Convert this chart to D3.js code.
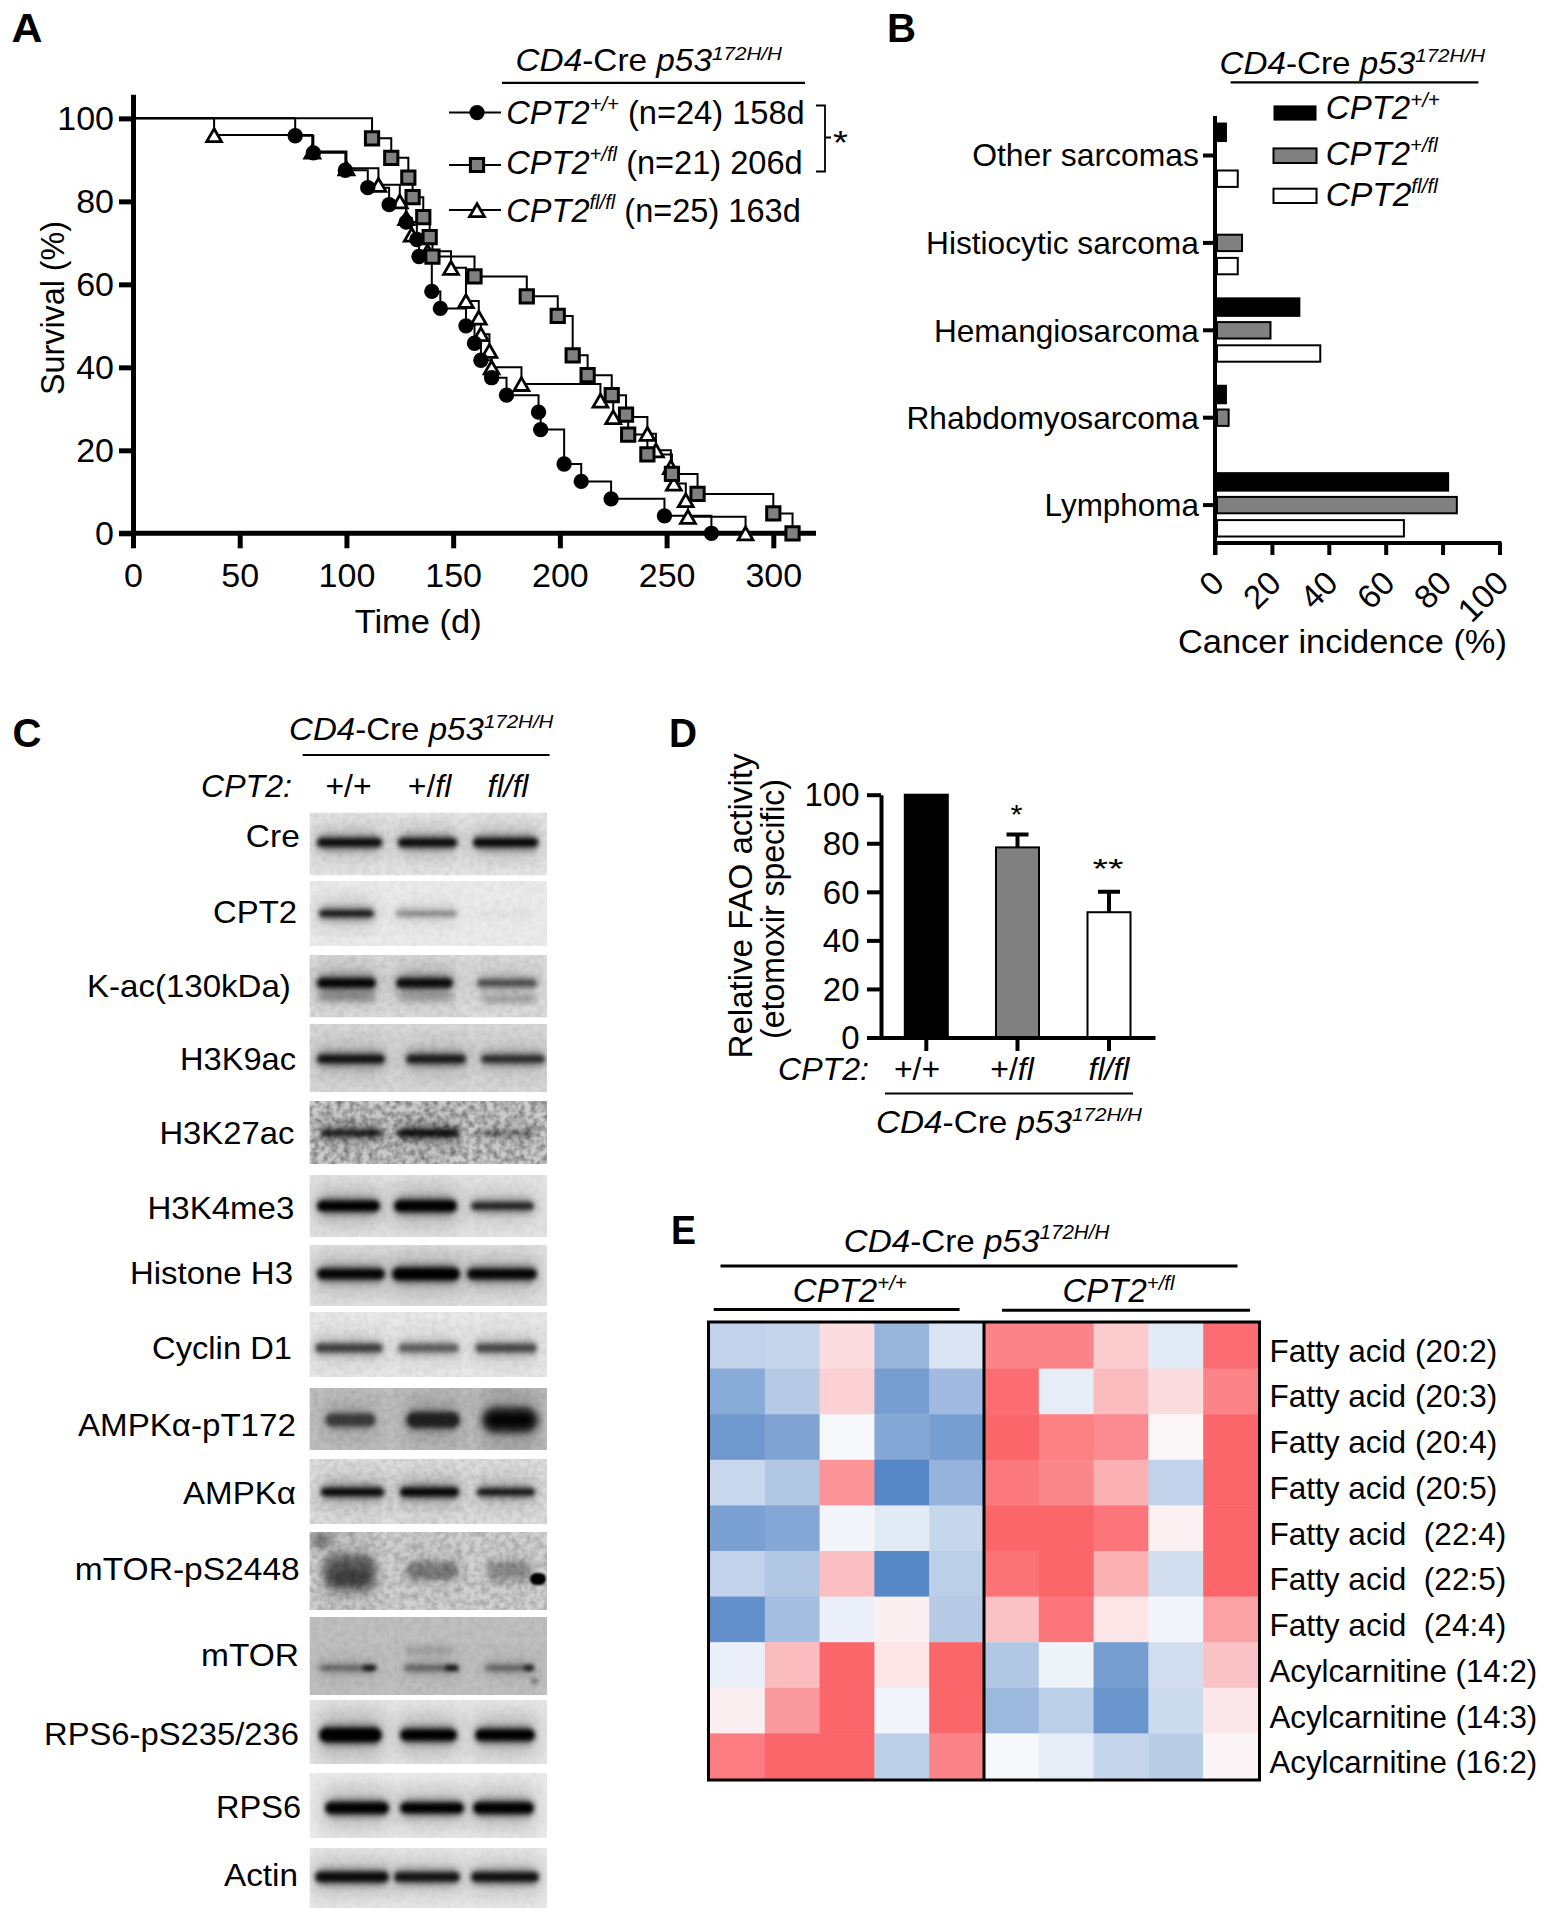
<!DOCTYPE html>
<html><head><meta charset="utf-8">
<script src="https://cdn.jsdelivr.net/npm/d3@7"></script>
<style>
html,body{margin:0;padding:0;background:#fff}
svg{display:block}
text{font-family:"Liberation Sans",Arial,sans-serif;fill:#000}
</style></head><body><svg id="c" width="1548" height="1920"></svg>
<script>
// ---------- Panel A data (Kaplan-Meier events: day, survival %) ----------
const kmWtDays  = [76,84.5,99.5,110,120,128,133,134,140,144,156,160,163,168,175,190,191,202,210,224,249,271];
const kmWtSurv  = [95.8,91.7,87.5,83.3,79.2,75,70.8,66.7,58.3,54.2,50,45.8,41.7,37.5,33.3,29.2,25,16.7,12.5,8.3,4.2,0];
const kmHetDays = [112,121,129,131,136,139,140.3,160,184.5,199,206,213,224.3,231,232,241,252.5,264.5,300,309];
const kmHetSurv = [95.2,90.5,85.7,81,76.2,71.4,66.7,61.9,57.1,52.4,42.9,38.1,33.3,28.6,23.8,19,14.3,9.5,4.8,0];
const kmKoDays  = [38,84,100,115,125,128,130.6,138,149,156,162,163,167,168,182,219,225,241,245,252,253.4,259,260,287];
const kmKoSurv  = [96,92,88,84,80,76,72,68,64,56,52,48,44,40,36,32,28,24,20,16,12,8,4,0];
const xTicksA = [0,50,100,150,200,250,300], yTicksA = [0,20,40,60,80,100];
const legendA = [["+/+","(n=24) 158d"],["+/fl","(n=21) 206d"],["fl/fl","(n=25) 163d"]];
// ---------- Panel B data ----------
const cancers = ["Other sarcomas","Histiocytic sarcoma","Hemangiosarcoma","Rhabdomyosarcoma","Lymphoma"];
const cancerWt  = [4.2,0,30,4.2,82.3];
const cancerHet = [0,9.5,19.5,4.8,85];
const cancerKo  = [8,8,37,0,66.4];
const xTicksB = [0,20,40,60,80,100];
// ---------- Panel D data ----------
const genotypes = ["+/+","+/fl","fl/fl"];
const faoMean = [100,78.3,51.6], faoUpper = [100,83.6,60];
const faoStars = ["","*","**"];
const yTicksD = [0,20,40,60,80,100];
// ---------- Panel E data ----------
const lipids = ["Fatty acid (20:2)","Fatty acid (20:3)","Fatty acid (20:4)","Fatty acid (20:5)","Fatty acid  (22:4)","Fatty acid  (22:5)","Fatty acid  (24:4)","Acylcarnitine (14:2)","Acylcarnitine (14:3)","Acylcarnitine (16:2)"];
const heatValues = [
 [-.35,-.33,.2,-.6,-.2, .8,.8,.32,-.15,.95],
 [-.7,-.42,.28,-.8,-.55, .95,-.12,.42,.2,.8],
 [-.85,-.75,-.03,-.72,-.8, 1,.82,.75,.03,1],
 [-.3,-.45,.7,-1,-.62, .88,.78,.5,-.35,1],
 [-.78,-.72,-.05,-.15,-.32, 1,1,.9,.07,1],
 [-.35,-.45,.4,-1,-.38, .92,1,.5,-.25,1],
 [-.92,-.52,-.1,.08,-.42, .38,.9,.15,-.06,.6],
 [-.1,.42,1,.15,1, -.45,-.08,-.8,-.25,.38],
 [.08,.65,1,-.06,1, -.58,-.38,-.88,-.28,.14],
 [.85,1,1,-.38,.8, -.03,-.12,-.33,-.4,.04]];
// ---------- Panel C data: blot names and relative band intensity per lane ----------
const blotNames = ["Cre","CPT2","K-ac(130kDa)","H3K9ac","H3K27ac","H3K4me3","Histone H3","Cyclin D1","AMPKα-pT172","AMPKα","mTOR-pS2448","mTOR","RPS6-pS235/236","RPS6","Actin"];
const blotIntensity = [[.9,.9,.95],[.85,.3,.02],[.95,.9,.5],[.85,.8,.7],[.75,.85,.28],[1,1,.75],[.95,1,.95],[.6,.45,.55],[.55,.72,1],[.95,.95,.85],[.42,.26,.2],[.4,.42,.42],[1,1,1],[1,1,1],[.9,.85,.88]];
// layout of the blot strips (pixels)
const blotTop    = [812.5,881,955,1024,1101,1175,1245,1312,1388,1459,1532,1617,1700,1773,1848];
const blotBottom = [875.5,946,1017.5,1092,1164,1237,1306,1377,1450,1524,1610,1695,1764,1838,1908];
const blotBandY  = [842.5,913.5,983,1059,1133,1206,1274,1348,1420,1492,1569,1668,1735,1808,1877];
const blotGrey   = ["#e6e6e6","#ebebeb","#dcdcdc","#d8d8d8","#cdcdcd","#e4e4e4","#e2e2e2","#e9e9e9","#c0c0c0","#dedede","#d2d2d2","#c0c0c0","#e6e6e6","#ebebeb","#e9e9e9"];
const blotNoise  = [.08,.05,.1,.08,.5,.05,.05,.07,.1,.12,.25,.08,.04,.04,.04];
const blotThick  = [[8,8,8],[6,5,5],[9,9,7],[8,8,7],[6,7,5],[10,11,7],[10,12,10],[8,8,8],[12,15,19],[7,8,6],[26,14,14],[4,4,4],[14,11,11],[11,10,11],[10,9,9]];
const blotLanes  = [[[319,385],[400,460],[475,541]],[[321,377],[398,460],[477,538]],[[319,379],[398,456],[479,540]],[[319,388],[408,469],[483,548]],[[323,385],[400,462],[481,538]],[[319,383],[396,460],[473,537]],[[319,388],[394,463],[469,540]],[[317,386],[400,462],[477,540]],[[327,379],[408,463],[485,540]],[[323,387],[402,462],[479,538]],[[325,379],[408,462],[488,535]],[[321,379],[406,462],[487,537]],[[321,385],[402,460],[477,538]],[[327,392],[402,467],[475,537]],[[317,392],[396,463],[473,542]]];
const blotNameRight = [299.8,297,291,296,294.4,294.4,293,292,296,296,299.8,299,299,301,298];
const blotNameBase  = [847,922.5,997,1070,1143.5,1218.5,1284,1359,1436,1503.5,1580,1665.6,1744.6,1818,1886];
const blotNameWidth = [54,84,204,116,135,147,163,140,218,113,225,98,255,85,74];
// extra marks: blot, x0, x1, centre y, height, opacity, blur class
const blotExtras = [
 [2,318,376,997,8,.32,"b3"],[2,398,453,997,7,.25,"b3"],[2,481,536,999,7,.28,"b3"],
 [10,325,376,1582,20,.42,"b5"],[10,406,458,1577,8,.2,"b3"],[10,488,531,1579,8,.16,"b3"],
 [10,310,332,1540,14,.45,"b5"],[10,530,546,1579,12,1,"b1"],
 [11,363,376,1668,5,.9,"b2"],[11,445,458,1668,5,.9,"b2"],[11,524,534,1668,5,.8,"b2"],[11,531,538,1681,7,.4,"b2"],
 [11,405,454,1650,9,.16,"b3"]];
const cols = {wt:"#000",het:"#808080",ko:"#fff"};

const svg = d3.select("#c");
const defs = svg.append("defs");
[["b1",1.3],["b2",2],["b3",3],["b5",5],["b8",9]].forEach(([id,s])=>{
  defs.append("filter").attr("id",id).attr("x","-30%").attr("y","-200%").attr("width","160%").attr("height","500%")
    .append("feGaussianBlur").attr("stdDeviation",s);
});
const nf = defs.append("filter").attr("id","noise").attr("x",0).attr("y",0).attr("width","100%").attr("height","100%");
nf.append("feTurbulence").attr("type","fractalNoise").attr("baseFrequency",.16).attr("numOctaves",2).attr("seed",4);
nf.append("feColorMatrix").attr("values","0 0 0 0 0  0 0 0 0 0  0 0 0 0 0  1.6 0 0 0 -.55");

// text helper: segs = [[string, style]]; style n | i | s (italic superscript)
function T(x,y,segs,o={}){
  const size=o.size||33;
  if(typeof segs==="string") segs=[[segs,"n"]];
  const t=svg.append("text").attr("font-size",size).attr("text-anchor",o.anchor||"start")
    .attr("font-weight",o.weight||null);
  let raised=0;
  segs.forEach(([s,k])=>{
    const ts=t.append("tspan").text(s).style("white-space","pre");
    if(k==="i"||k==="s") ts.attr("font-style","italic");
    if(k==="s"){ts.attr("font-size",size*.62); ts.attr("dy",-size*.38-raised); raised=-size*.38;}
    else if(raised){ts.attr("dy",-raised); raised=0;}
  });
  let tf=`translate(${x},${y})`;
  if(o.rotate) tf+=` rotate(${o.rotate})`;
  if(o.w){ const len=t.node().getComputedTextLength(); tf+=` scale(${o.w/len},1)`; }
  t.attr("transform",tf);
  return t;
}
const title=(x,y,w,size)=>T(x,y,[["CD4","i"],["-Cre ","n"],["p53","i"],["172H/H","s"]],{w,size:size||31});
const rule=(x1,x2,y,sw=2.2)=>svg.append("line").attr("x1",x1).attr("x2",x2).attr("y1",y).attr("y2",y).attr("stroke","#000").attr("stroke-width",sw);
function styleAxis(g,sw){g.selectAll("path,line").attr("stroke","#000").attr("stroke-width",sw).attr("stroke-linecap","butt");g.selectAll("text").attr("fill","#000");}

// panel letters
[["A",11.5,42,31],["B",887,42,29],["C",12.5,747,29],["D",669,747,28],["E",671,1244,25]].forEach(([s,x,y,w])=>T(x,y,s,{size:40,weight:"bold",w}));

// ============ Panel A ============
const xA=d3.scaleLinear().domain([0,320]).range([133,816]);
const yA=d3.scaleLinear().domain([0,105.8]).range([533.3,94.3]);
const gxA=svg.append("g").attr("transform","translate(0,533.3)")
  .call(d3.axisBottom(xA).tickValues(xTicksA).tickSize(15).tickSizeOuter(0).tickFormat(d3.format("d")));
const gyA=svg.append("g").attr("transform","translate(133,0)")
  .call(d3.axisLeft(yA).tickValues(yTicksA).tickSize(14).tickSizeOuter(0).tickFormat(d3.format("d")));
styleAxis(gxA,5);styleAxis(gyA,5);
gxA.select(".domain").attr("d","M119,0H816");
gxA.selectAll("text").attr("font-size",34).attr("dy",0).attr("y",53.5);
gyA.selectAll("text").attr("font-size",34).attr("x",-19).attr("dy","0.33em");
const stepA=d3.line().x(d=>xA(d[0])).y(d=>yA(d[1])).curve(d3.curveStepAfter);
const series=[
 {days:kmKoDays,surv:kmKoSurv,sym:d3.symbolTriangle,size:95,fill:"#fff",sw:2.8,dy:2.3},
 {days:kmWtDays,surv:kmWtSurv,sym:d3.symbolCircle,size:185,fill:"#000",sw:0,dy:0},
 {days:kmHetDays,surv:kmHetSurv,sym:d3.symbolSquare,size:175,fill:"#808080",sw:3,dy:0}];
const stepPts=s=>[[0,100]].concat(s.days.map((d,i)=>[d,s.surv[i]]));
series.forEach(s=>{
  svg.append("path").datum(stepPts(s)).attr("d",stepA).attr("fill","none").attr("stroke","#000").attr("stroke-width",2);
});
series.forEach(s=>{
  svg.append("g").selectAll("path").data(s.days.map((d,i)=>[d,s.surv[i]])).join("path")
    .attr("d",d3.symbol(s.sym,s.size)).attr("fill",s.fill).attr("stroke","#000").attr("stroke-width",s.sw)
    .attr("stroke-linejoin","miter")
    .attr("transform",d=>`translate(${xA(d[0])},${yA(d[1])+s.dy})`);
});
// legend A
title(515.5,71.4,266.5);
rule(502,805,82.8);
const legOrder=[series[1],series[2],series[0]];
[112.6,165,210].forEach((y,i)=>{
  svg.append("line").attr("x1",449).attr("x2",501).attr("y1",y).attr("y2",y).attr("stroke","#000").attr("stroke-width",2);
  const s=legOrder[i];
  svg.append("path").attr("d",d3.symbol(s.sym,s.size)).attr("fill",s.fill).attr("stroke","#000").attr("stroke-width",s.sw)
    .attr("transform",`translate(477,${y+s.dy})`);
});
[[123.5,298.5],[174,296.5],[221.5,294.5]].forEach(([y,w],i)=>{
  T(506.3,y,[["CPT2","i"],[legendA[i][0],"s"],[" "+legendA[i][1],"n"]],{w,size:33});
});
svg.append("path").attr("d","M816,105.5H825V171.5H816M825,137.5H831").attr("fill","none").attr("stroke","#000").attr("stroke-width",1.8);
T(833,154,"*",{size:33,w:15});
T(64,308,"Survival (%)",{anchor:"middle",rotate:-90,size:33,w:174});
T(354.7,633,"Time (d)",{size:33,w:127});

// ============ Panel B ============
const xB=d3.scaleLinear().domain([0,100]).range([1215,1499.5]);
const yB=d3.scaleBand().domain(cancers).range([111.8,548.8]).padding(0);
const gxB=svg.append("g").attr("transform","translate(0,543)")
  .call(d3.axisBottom(xB).tickValues(xTicksB).tickSize(12).tickSizeOuter(0).tickFormat(d3.format("d")));
styleAxis(gxB,4);
gxB.selectAll("text").remove();
gxB.select(".domain").attr("d","M1213,0H1501.5");
const gyB=svg.append("g").attr("transform","translate(1215,0)")
  .call(d3.axisLeft(yB).tickSize(12).tickSizeOuter(0).tickFormat(""));
styleAxis(gyB,4);
gyB.select(".domain").attr("d","M0,116V555");
xTicksB.forEach(v=>T(xB(v)+11,585,String(v),{anchor:"end",rotate:-45,size:33}));
const barB=[[cancerWt,-23.2,cols.wt],[cancerHet,0,cols.het],[cancerKo,23.2,cols.ko]];
barB.forEach(([vals,off,fill])=>{
  const h=fill==="#000"?19.5:16.4;
  svg.append("g").selectAll("rect").data(vals).join("rect")
    .attr("x",xB(0)+2)
    .attr("y",(d,i)=>yB(cancers[i])+yB.bandwidth()/2+off-h/2)
    .attr("width",d=>Math.max(0,xB(d)-xB(0)-2))
    .attr("height",d=>d>0?h:0)
    .attr("fill",fill).attr("stroke",d=>d>0?"#000":"none").attr("stroke-width",fill==="#000"?0:2);
});
[[166,226.8],[253.8,273],[341.9,265],[428.6,292.6],[516.3,154.4]].forEach(([y,w],i)=>{
  T(1199-w,y,cancers[i],{size:32,w});
});
title(1219.6,73.7,265.5);
rule(1230.6,1478.4,82.4);
[[105.4,120.6,cols.wt,"+/+",119.3,114],[148.4,163,cols.het,"+/fl",164.9,112],[188.7,203,cols.ko,"fl/fl",206,112]].forEach(([a,b,f,sup,base,w])=>{
  svg.append("rect").attr("x",1273.5).attr("y",a).attr("width",43).attr("height",b-a).attr("fill",f).attr("stroke","#000").attr("stroke-width",f==="#000"?0:2);
  T(1325.8,base,[["CPT2","i"],[sup,"s"]],{size:33,w});
});
T(1178,653.3,"Cancer incidence (%)",{size:33,w:329});

// ============ Panel C ============
title(289,739.5,264.5);
rule(302.7,549.6,755);
T(201,797,[["CPT2:","i"]],{size:32,w:91});
const lanesC=[348.5,429.5,508];
genotypes.forEach((g,i)=>T(lanesC[i],797,g==="+/+"?[[g,"n"]]:(g==="+/fl"?[["+/","n"],["fl","i"]]:[[g,"i"]]),{anchor:"middle",size:32}));
blotNames.forEach((name,b)=>{
  const top=blotTop[b],h=blotBottom[b]-top,bx=309.5,bw=237.5;
  const id="clip"+b;
  defs.append("clipPath").attr("id",id).append("rect").attr("x",bx).attr("y",top).attr("width",bw).attr("height",h);
  const g=svg.append("g").attr("clip-path",`url(#${id})`);
  g.append("rect").attr("x",bx).attr("y",top).attr("width",bw).attr("height",h).attr("fill",blotGrey[b]);
  if(blotNoise[b]>0) g.append("rect").attr("x",bx).attr("y",top).attr("width",bw).attr("height",h).attr("filter","url(#noise)").attr("opacity",blotNoise[b]);
  blotLanes[b].forEach((l,j)=>{
    const I=blotIntensity[b][j],th=blotThick[b][j],y=blotBandY[b],x0=l[0]-2.5,w=l[1]-l[0];
    g.append("rect").attr("x",x0-2).attr("width",w+4).attr("y",y-th*1.4-6).attr("height",th*2.8+12)
      .attr("rx",8).attr("fill","#000").attr("opacity",.17*I).attr("filter","url(#b8)");
    g.append("rect").attr("x",x0).attr("width",w).attr("y",y-th/2-4).attr("height",th+8).attr("rx",(th+8)/2)
      .attr("fill","#000").attr("opacity",.42*I).attr("filter","url(#b3)");
    g.append("rect").attr("x",x0+1).attr("width",w-2).attr("y",y-th/2).attr("height",th).attr("rx",th/2)
      .attr("fill","#000").attr("opacity",I).attr("filter",th>16?"url(#b5)":"url(#b2)");
  });
  blotExtras.filter(e=>e[0]===b).forEach(e=>{
    g.append("rect").attr("x",e[1]).attr("width",e[2]-e[1]).attr("y",e[3]-e[4]/2).attr("height",e[4]).attr("rx",e[4]/2)
      .attr("fill","#000").attr("opacity",e[5]).attr("filter",`url(#${e[6]})`);
  });
  T(blotNameRight[b]-blotNameWidth[b],blotNameBase[b],name,{size:32,w:blotNameWidth[b]});
});

// ============ Panel D ============
const yD=d3.scaleLinear().domain([0,100]).range([1037.5,794.7]);
const barX=[926.3,1017.5,1109];
const gyD=svg.append("g").attr("transform","translate(881,0)")
  .call(d3.axisLeft(yD).tickValues(yTicksD).tickSize(14).tickSizeOuter(0).tickFormat(d3.format("d")));
styleAxis(gyD,4);
gyD.selectAll("text").attr("font-size",33).attr("x",-21.5).attr("dy","0.34em");
faoUpper.forEach((u,i)=>{
  if(u>faoMean[i]){
    svg.append("path").attr("d",`M${barX[i]-11},${yD(u)}H${barX[i]+11}M${barX[i]},${yD(u)}V${yD(faoMean[i])}`).attr("fill","none").attr("stroke","#000").attr("stroke-width",4);
  }
});
svg.append("g").selectAll("rect").data(faoMean).join("rect")
  .attr("x",(d,i)=>barX[i]-21.5).attr("width",43)
  .attr("y",d=>yD(d)).attr("height",d=>yD(0)-yD(d))
  .attr("fill",(d,i)=>[cols.wt,cols.het,cols.ko][i]).attr("stroke","#000").attr("stroke-width",2);
svg.append("path").attr("d","M867,1038H1155.5").attr("stroke","#000").attr("stroke-width",4).attr("fill","none");
barX.forEach(x=>svg.append("line").attr("x1",x).attr("x2",x).attr("y1",1038).attr("y2",1051).attr("stroke","#000").attr("stroke-width",4));
faoStars.forEach((s,i)=>{ if(s) T(barX[i]-1,[0,824,878][i],s,{anchor:"middle",size:28,w:s.length===1?12:31}); });
T(752,906,"Relative FAO activity",{anchor:"middle",rotate:-90,size:33,w:305});
T(783.5,909,"(etomoxir specific)",{anchor:"middle",rotate:-90,size:33,w:260});
T(778,1080,[["CPT2:","i"]],{size:32,w:91});
[[917,[["+/+","n"]]],[1012,[["+/","n"],["fl","i"]]],[1109,[["fl/fl","i"]]]].forEach(([x,s])=>T(x,1080,s,{anchor:"middle",size:32}));
rule(885,1133,1093.5);
title(876,1133,266);

// ============ Panel E ============
const xE=d3.scaleBand().domain(d3.range(10)).range([710,1258]);
const yE=d3.scaleBand().domain(lipids).range([1323,1779]);
const heatColor=d3.scaleLinear().domain([-1,0,1]).range(["#5687c6","#fbfbfd","#fb666b"]);
heatValues.forEach((row,r)=>{
  svg.append("g").selectAll("rect").data(row).join("rect")
    .attr("x",(d,c)=>xE(c)).attr("y",yE(lipids[r])).attr("width",xE.bandwidth()+.5).attr("height",yE.bandwidth()+.5)
    .attr("fill",d=>heatColor(d));
});
svg.append("rect").attr("x",708.5).attr("y",1322).attr("width",551).attr("height",458).attr("fill","none").attr("stroke","#000").attr("stroke-width",3);
svg.append("line").attr("x1",984).attr("x2",984).attr("y1",1322).attr("y2",1780).attr("stroke","#000").attr("stroke-width",3);
lipids.forEach((name,r)=>{
  const w=name.startsWith("Acyl")?268:(name.includes("  ")?237:228);
  T(1269.4,1361.5+r*45.75,name,{size:32,w});
});
title(843.7,1251.5,265.7,32);
rule(720.5,1237.5,1266,3);
T(792.8,1302.3,[["CPT2","i"],["+/+","s"]],{w:114,size:33});
rule(713.7,959.6,1309.5,3);
T(1062.5,1302.3,[["CPT2","i"],["+/fl","s"]],{w:112,size:33});
rule(1002,1250,1310.3,3);
</script></body></html>
